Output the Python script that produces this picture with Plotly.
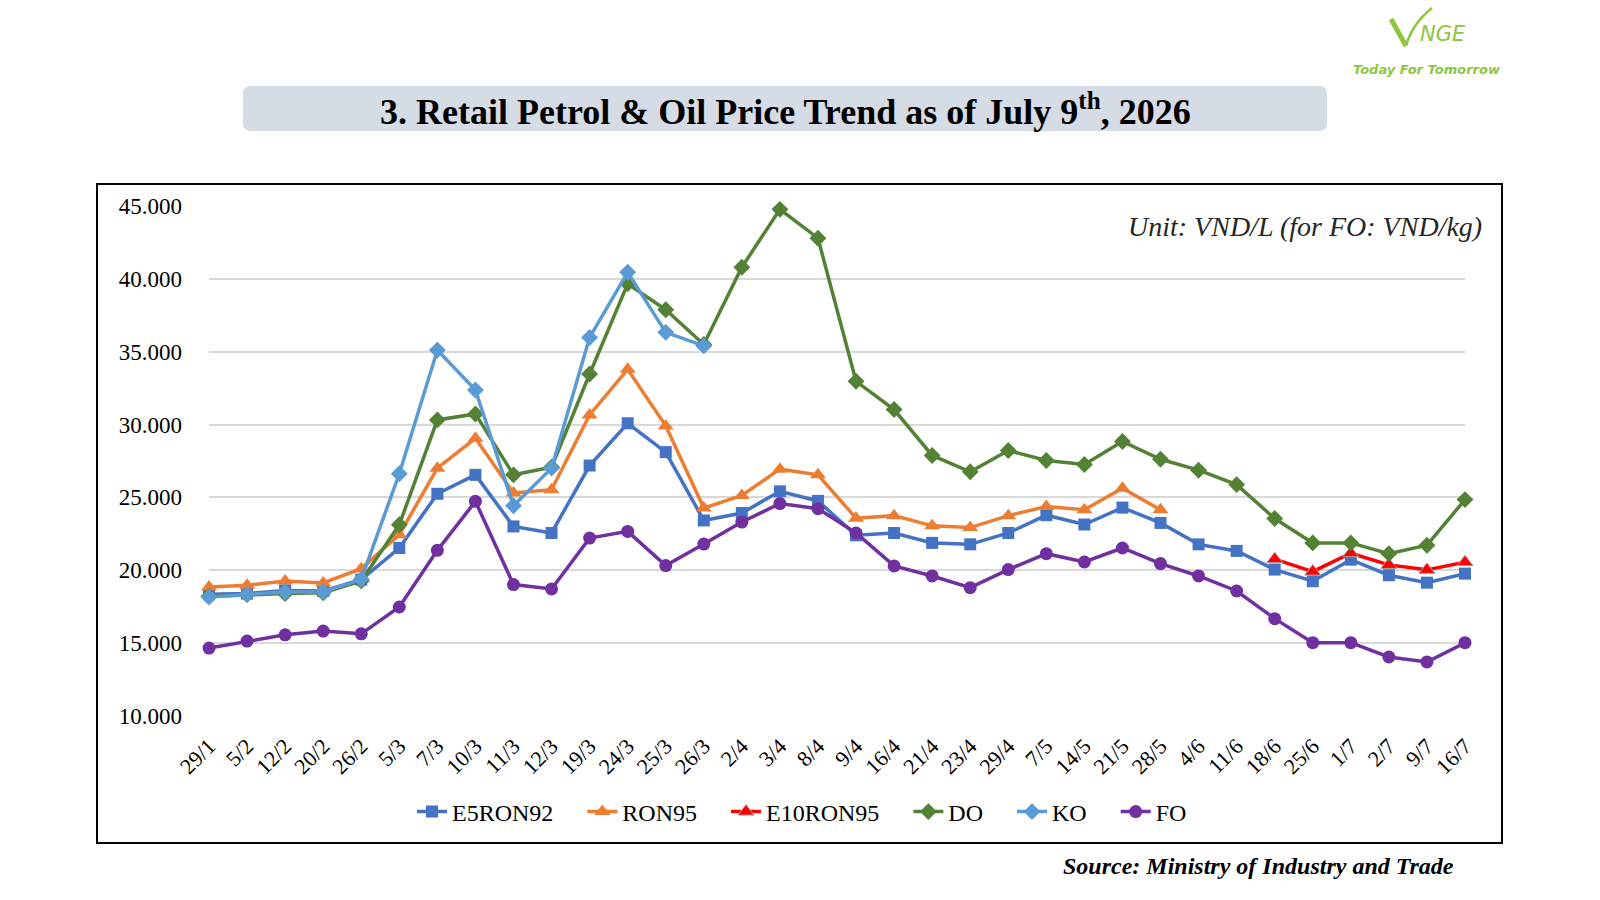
import plotly.graph_objects as go

# dates of price adjustments
dates = ['29/1', '5/2', '12/2', '20/2', '26/2', '5/3', '7/3', '10/3', '11/3', '12/3',
         '19/3', '24/3', '25/3', '26/3', '2/4', '3/4', '8/4', '9/4', '16/4', '21/4',
         '23/4', '29/4', '7/5', '14/5', '21/5', '28/5', '4/6', '11/6', '18/6', '25/6',
         '1/7', '2/7', '9/7', '16/7']

e5ron92 = [18350, 18400, 18620, 18580, 19360, 21530, 25250, 26550, 23010, 22560,
           27190, 30090, 28110, 23420, 23930, 25420, 24760, 22400, 22560, 21880,
           21780, 22560, 23780, 23140, 24300, 23250, 21780, 21330, 20050, 19250,
           20730, 19660, 19150, 19770]
ron95 = [18850, 18970, 19270, 19130, 20110, 22440, 27010, 29060, 25300, 25530,
         30660, 33790, 29910, 24270, 25140, 26940, 26550, 23570, 23750, 23050,
         22930, 23750, 24370, 24150, 25630, 24150, None, None, None, None,
         None, None, None, None]
e10ron95 = [None] * 28 + [20760, 19910, 21170, 20370, 20030, 20560]
do = [18210, 18330, 18400, 18460, 19270, 23130, 30320, 30730, 26550, 27080,
      33470, 39660, 37880, 35500, 40800, 44770, 42790, 32970, 31030, 27880,
      26760, 28220, 27530, 27260, 28840, 27620, 26870, 25880, 23550, 21880,
      21880, 21140, 21720, 24850]
ko = [18170, 18350, 18510, 18530, 19380, 26620, 35110, 32370, 24430, 27010,
      35980, 40450, 36330, 35400] + [None] * 20
fo = [14660, 15140, 15570, 15830, 15640, 17480, 21370, 24730, 19020, 18720,
      22210, 22670, 20320, 21800, 23310, 24580, 24230, 22560, 20300, 19610,
      18810, 20050, 21140, 20570, 21530, 20460, 19610, 18580, 16680, 15030,
      15030, 14050, 13710, 15030]

FONT = 'Liberation Serif'
GREEN_LOGO = '#8DC63F'

# plot area in pixels
L, R, T, B = 209, 1465, 206, 716


def px(x):
    return (x - L) / (R - L)


def py(y):
    return (B - y) / (B - T)


def rounded_rect(x0, y0, x1, y1, r):
    return (f'M {px(x0 + r)} {py(y0)} L {px(x1 - r)} {py(y0)} '
            f'Q {px(x1)} {py(y0)} {px(x1)} {py(y0 + r)} L {px(x1)} {py(y1 - r)} '
            f'Q {px(x1)} {py(y1)} {px(x1 - r)} {py(y1)} L {px(x0 + r)} {py(y1)} '
            f'Q {px(x0)} {py(y1)} {px(x0)} {py(y1 - r)} L {px(x0)} {py(y0 + r)} '
            f'Q {px(x0)} {py(y0)} {px(x0 + r)} {py(y0)} Z')


pad = '\u00a0' * 4
series = [
    ('E5RON92' + pad, e5ron92, '#4472C4', 'square', 12, None),
    ('RON95' + pad, ron95, '#ED7D31', 'triangle-up', 14, None),
    ('E10RON95' + pad, e10ron95, '#FF0000', 'triangle-up', 14, '#A6A6A6'),
    ('DO' + pad, do, '#548235', 'diamond', 13, None),
    ('KO' + pad, ko, '#5B9BD5', 'diamond', 13, None),
    ('FO', fo, '#7030A0', 'circle', 13, None),
]

fig = go.Figure()
for name, vals, color, symbol, size, edge in series:
    fig.add_trace(go.Scatter(
        x=dates, y=vals, name=name, mode='lines+markers',
        line=dict(color=color, width=3.5),
        marker=dict(symbol=symbol, size=size, color=color,
                    line=dict(color=edge or color, width=1 if edge else 0)),
        cliponaxis=False,
    ))

fig.update_layout(
    width=1600, height=900,
    margin=dict(l=L, r=1600 - R, t=T, b=900 - B),
    paper_bgcolor='white', plot_bgcolor='white',
    separators=',.',
    font=dict(family=FONT, color='black', size=22),
    showlegend=True,
    legend=dict(orientation='h', x=px(802), xanchor='center', y=py(812), yanchor='middle',
                font=dict(family=FONT, size=24), traceorder='normal'),
    xaxis=dict(type='category', range=[0, len(dates) - 1], tickangle=-45,
               showgrid=False, showline=False, ticks='', ticklabelstandoff=12,
               tickfont=dict(family=FONT, size=22)),
    yaxis=dict(range=[10000, 45000], dtick=5000, tickformat=',.0f',
               showgrid=True, gridcolor='#D9D9D9', gridwidth=1.5,
               zeroline=False, showline=False, ticks='', ticklabelstandoff=26,
               tickfont=dict(family=FONT, size=23)),
)

fig.add_shape(type='rect', xref='paper', yref='paper',
              x0=px(97), x1=px(1502), y0=py(843), y1=py(184),
              line=dict(color='black', width=2), fillcolor='rgba(0,0,0,0)', layer='below')
fig.add_shape(type='path', xref='paper', yref='paper',
              path=rounded_rect(243, 86, 1327, 131, 8),
              fillcolor='#D6DCE5', line=dict(width=0), layer='below')

fig.add_annotation(xref='paper', yref='paper', x=px(785), y=py(109),
                   text='<b>3. Retail Petrol &amp; Oil Price Trend as of July 9<sup>th</sup>, 2026</b>',
                   showarrow=False, xanchor='center', yanchor='middle',
                   font=dict(family=FONT, size=36, color='black'))
fig.add_annotation(xref='paper', yref='paper', x=px(1484), y=py(227),
                   text='<i>Unit: VND/L (for FO: VND/kg)</i>',
                   showarrow=False, xanchor='right', yanchor='middle',
                   font=dict(family=FONT, size=28, color='#262626'))
fig.add_annotation(xref='paper', yref='paper', x=px(1456), y=py(866),
                   text='<b><i>Source: Ministry of Industry and Trade</i></b>',
                   showarrow=False, xanchor='right', yanchor='middle',
                   font=dict(family=FONT, size=24, color='black'))

# logo: V drawn as a stroke plus a swoosh, then NGE and the slogan
fig.add_shape(type='path', xref='paper', yref='paper',
              path=f'M {px(1391)} {py(19)} L {px(1406)} {py(46)}',
              line=dict(color=GREEN_LOGO, width=5))
fig.add_shape(type='path', xref='paper', yref='paper',
              path=f'M {px(1406)} {py(46)} Q {px(1412)} {py(24)} {px(1432)} {py(8)}',
              line=dict(color=GREEN_LOGO, width=2.5))
fig.add_annotation(xref='paper', yref='paper', x=px(1418), y=py(48),
                   text='<i>NGE</i>', showarrow=False, xanchor='left', yanchor='bottom',
                   font=dict(family='DejaVu Sans', size=21, color=GREEN_LOGO))
fig.add_annotation(xref='paper', yref='paper', x=px(1427), y=py(69),
                   text='<b><i>Today For Tomorrow</i></b>',
                   showarrow=False, xanchor='center', yanchor='middle',
                   font=dict(family='DejaVu Sans', size=13, color=GREEN_LOGO))

fig.write_html('out.html', config={'displayModeBar': False},
               post_script="document.body.style.margin='0px';")
